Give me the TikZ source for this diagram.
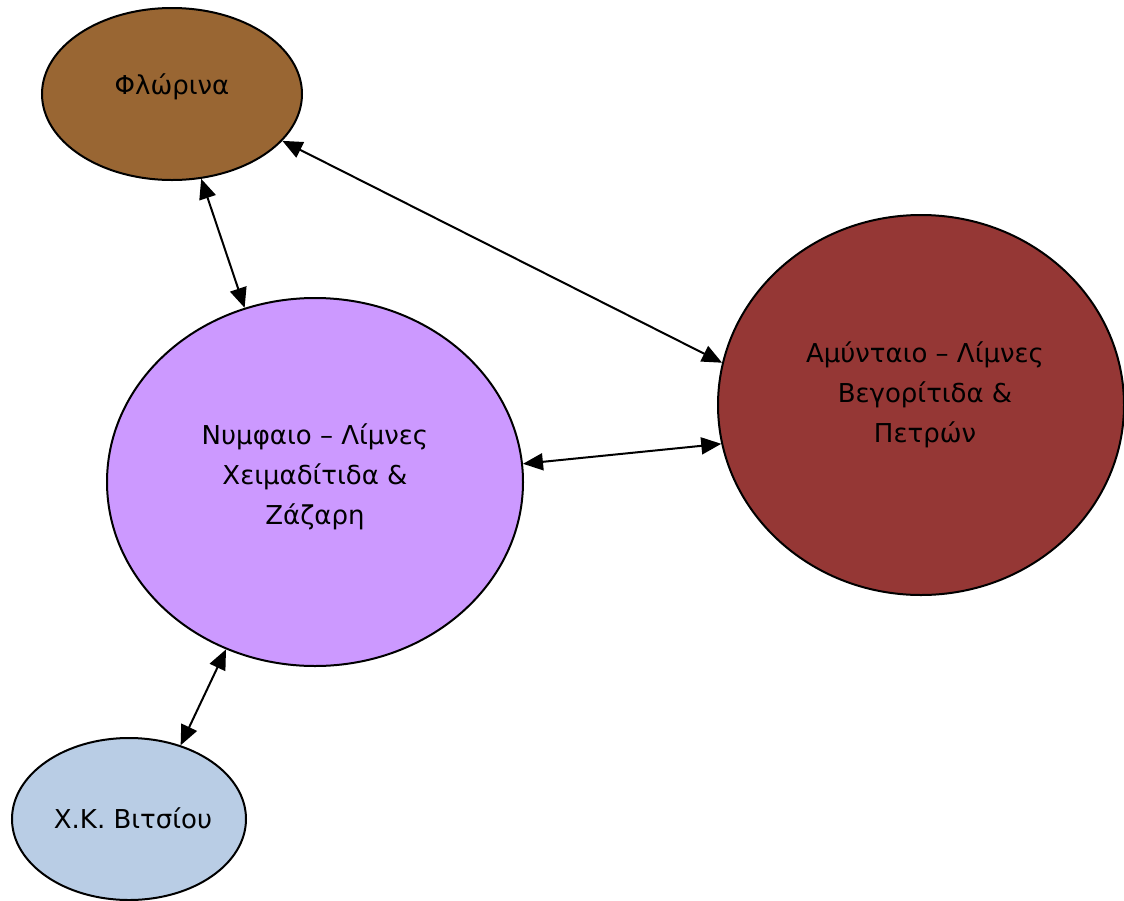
\documentclass[tikz,border=0pt]{standalone}
\usepackage{fontspec}
\setmainfont{DejaVu Sans}
\usetikzlibrary{shapes.geometric,arrows.meta}
\definecolor{cflo}{HTML}{996633}
\definecolor{cnym}{HTML}{CC99FF}
\definecolor{camy}{HTML}{953735}
\definecolor{cvit}{HTML}{B9CDE5}
\tikzset{
  blob/.style={ellipse, draw=black, line width=2pt, inner sep=0pt},
  txt/.style={align=center, font=\fontsize{26}{40}\selectfont, text=black},
  link/.style={line width=2pt, {Triangle[length=20pt,width=17pt]}-{Triangle[length=20pt,width=17pt]}}
}
\begin{document}
\begin{tikzpicture}[x=1pt,y=-1pt]
\useasboundingbox (0,0) rectangle (1124,900);
\node[blob, fill=cflo, minimum width=260pt, minimum height=172pt] (flo) at (172,94) {};
\node[blob, fill=cnym, minimum width=416pt, minimum height=368pt] (nym) at (315,482) {};
\node[blob, fill=camy, minimum width=406pt, minimum height=380pt] (amy) at (921,405) {};
\node[blob, fill=cvit, minimum width=234pt, minimum height=162pt] (vit) at (129,819) {};
\node[txt] (tflo) at (172,87) {Φλώρινα};
\node[txt] (tnym) at (315,477) {Νυμφαιο – Λίμνες\\Χειμαδίτιδα \&\\Ζάζαρη};
\node[txt] (tamy) at (925,395) {Αμύνταιο – Λίμνες\\Βεγορίτιδα \&\\Πετρών};
\node[txt] (tvit) at (133,818) {Χ.Κ. Βιτσίου};
\draw[link] (flo.-23) -- (amy.168);
\draw[link] (flo.-71.6) -- (nym.112.3);
\draw[link] (nym.5.5) -- (amy.-169.1);
\draw[link] (nym.-118.1) -- (vit.55.4);
\end{tikzpicture}
\end{document}
